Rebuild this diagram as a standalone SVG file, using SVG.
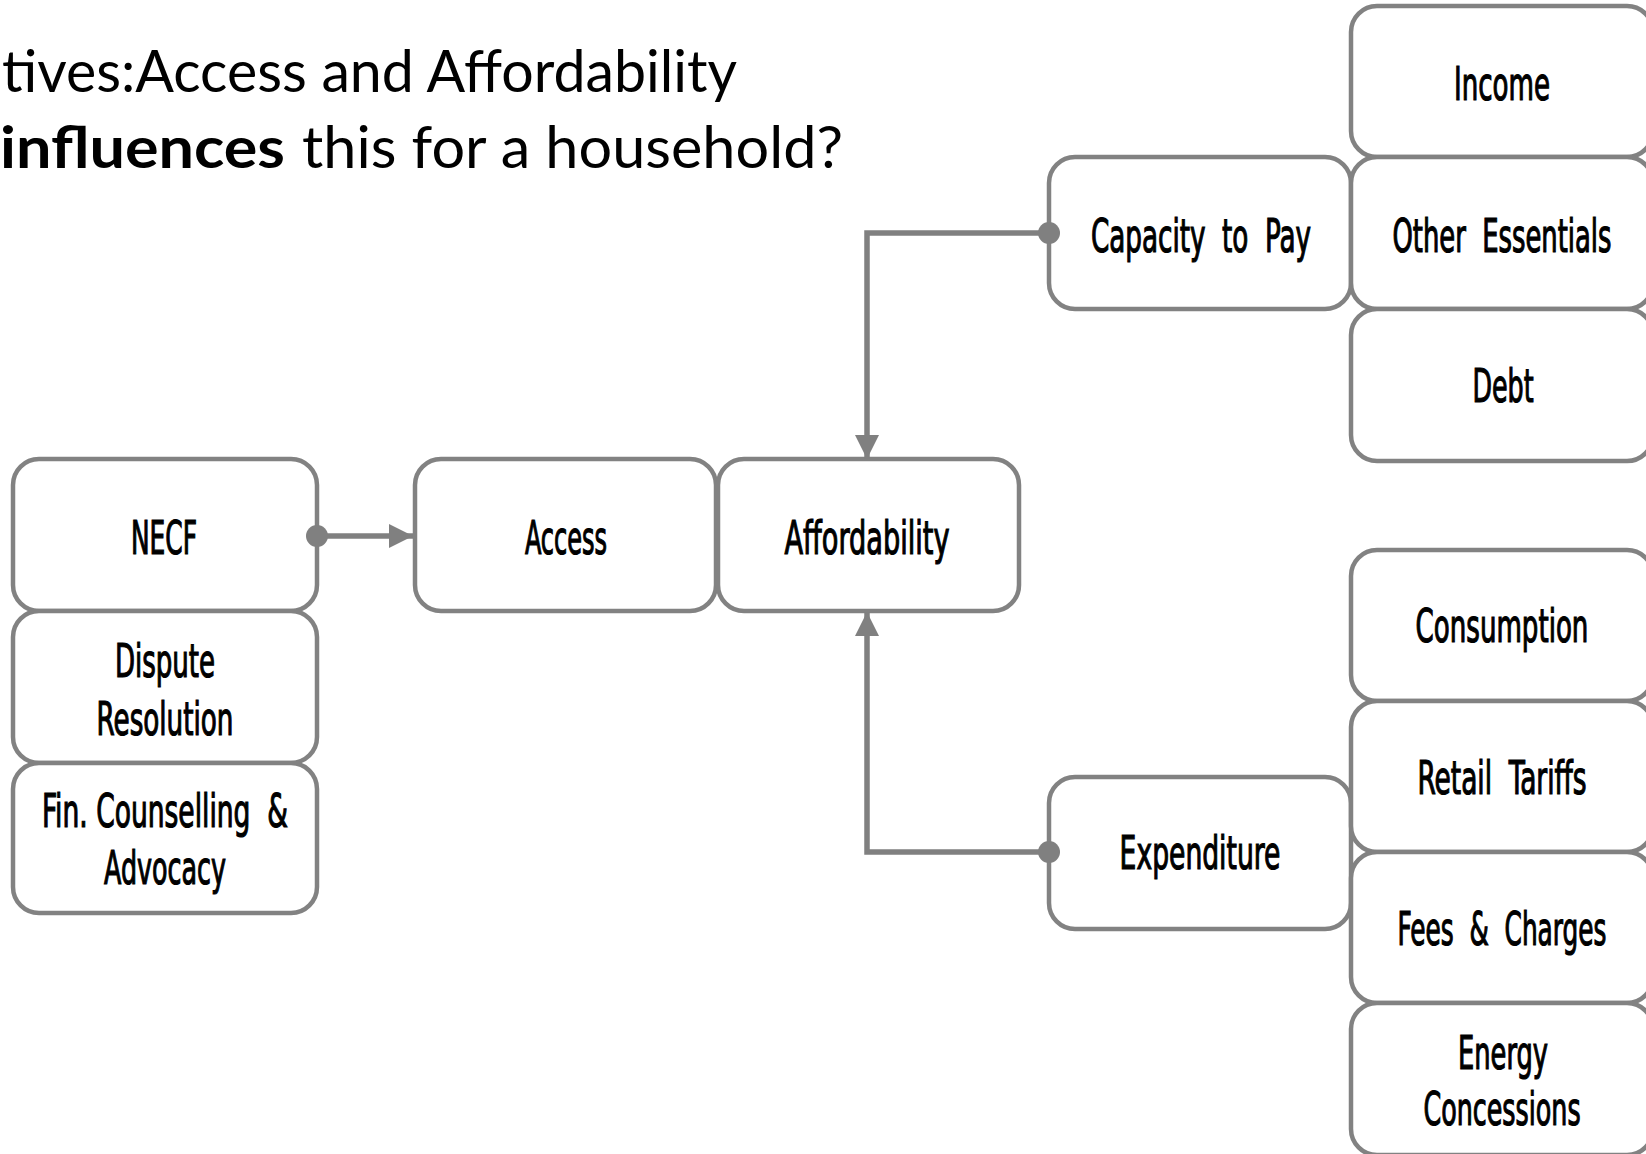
<svg xmlns="http://www.w3.org/2000/svg" width="1646" height="1154" viewBox="0 0 1646 1154">
<style>
.box{fill:#fff;stroke:#828282;stroke-width:4.5}
.lbl{font-family:"Liberation Sans Narrow","DejaVu Sans Condensed","Liberation Sans",sans-serif;font-size:46px;fill:#000;stroke:#000;stroke-width:1.2;text-anchor:middle;white-space:pre}
.title{font-family:Lato,"Open Sans","Liberation Sans",sans-serif;font-size:58px;fill:#000}
.conn{fill:none;stroke:#808080;stroke-width:5.5}
.dot{fill:#808080}
</style>
<defs>
<marker id="arr" markerUnits="userSpaceOnUse" markerWidth="24" markerHeight="24" viewBox="0 0 24 24" refX="24" refY="12" orient="auto">
<path d="M0,0 L24,12 L0,24 Z" fill="#808080"/>
</marker>
</defs>
<rect width="1646" height="1154" fill="#fff"/>
<g id="title">
<text class="title" x="2" y="92" textLength="735" lengthAdjust="spacingAndGlyphs">tives:Access and Affordability</text>
<text class="title" y="168"><tspan x="0" font-weight="bold" textLength="285" lengthAdjust="spacingAndGlyphs">influences</tspan><tspan x="302" textLength="541" lengthAdjust="spacingAndGlyphs">this for a household?</tspan></text>
</g>
<g id="n-necf"><rect class="box" x="13" y="459" width="304" height="152" rx="26"/><text class="lbl" transform="translate(164,554) scale(0.6,1)" textLength="110" lengthAdjust="spacingAndGlyphs">NECF</text></g>
<g id="n-dispute"><rect class="box" x="13" y="611" width="304" height="152" rx="26"/><text class="lbl" transform="translate(165,677) scale(0.6,1)" textLength="167" lengthAdjust="spacingAndGlyphs">Dispute</text><text class="lbl" transform="translate(165,735) scale(0.6,1)" textLength="228" lengthAdjust="spacingAndGlyphs">Resolution</text></g>
<g id="n-fin"><rect class="box" x="13" y="763" width="304" height="150" rx="26"/><text class="lbl" transform="translate(165,827) scale(0.6,1)" textLength="410" lengthAdjust="spacingAndGlyphs">Fin. Counselling  &amp;</text><text class="lbl" transform="translate(165,884) scale(0.6,1)" textLength="203" lengthAdjust="spacingAndGlyphs">Advocacy</text></g>
<g id="n-access"><rect class="box" x="415" y="459" width="301" height="152" rx="26"/><text class="lbl" transform="translate(566,554) scale(0.6,1)" textLength="137" lengthAdjust="spacingAndGlyphs">Access</text></g>
<g id="n-afford"><rect class="box" x="718" y="459" width="301" height="152" rx="26"/><text class="lbl" transform="translate(867,554) scale(0.6,1)" textLength="275" lengthAdjust="spacingAndGlyphs">Affordability</text></g>
<g id="n-capacity"><rect class="box" x="1049" y="157" width="302" height="152" rx="26"/><text class="lbl" transform="translate(1201,252) scale(0.6,1)" textLength="367" lengthAdjust="spacingAndGlyphs">Capacity  to  Pay</text></g>
<g id="n-expend"><rect class="box" x="1049" y="777" width="302" height="152" rx="26"/><text class="lbl" transform="translate(1200,869) scale(0.6,1)" textLength="268" lengthAdjust="spacingAndGlyphs">Expenditure</text></g>
<g id="n-income"><rect class="box" x="1351" y="6" width="302" height="151" rx="26"/><text class="lbl" transform="translate(1502,100) scale(0.6,1)" textLength="160" lengthAdjust="spacingAndGlyphs">Income</text></g>
<g id="n-other"><rect class="box" x="1351" y="157" width="302" height="152" rx="26"/><text class="lbl" transform="translate(1502,252) scale(0.6,1)" textLength="365" lengthAdjust="spacingAndGlyphs">Other  Essentials</text></g>
<g id="n-debt"><rect class="box" x="1351" y="309" width="302" height="152" rx="26"/><text class="lbl" transform="translate(1503,402) scale(0.6,1)" textLength="102" lengthAdjust="spacingAndGlyphs">Debt</text></g>
<g id="n-consumption"><rect class="box" x="1351" y="550" width="302" height="151" rx="26"/><text class="lbl" transform="translate(1502,642) scale(0.6,1)" textLength="288" lengthAdjust="spacingAndGlyphs">Consumption</text></g>
<g id="n-retail"><rect class="box" x="1351" y="701" width="302" height="151" rx="26"/><text class="lbl" transform="translate(1502,794) scale(0.6,1)" textLength="282" lengthAdjust="spacingAndGlyphs">Retail  Tariffs</text></g>
<g id="n-fees"><rect class="box" x="1351" y="852" width="302" height="151" rx="26"/><text class="lbl" transform="translate(1502,945) scale(0.6,1)" textLength="348" lengthAdjust="spacingAndGlyphs">Fees  &amp;  Charges</text></g>
<g id="n-energy"><rect class="box" x="1351" y="1003" width="302" height="152" rx="26"/><text class="lbl" transform="translate(1503,1069) scale(0.6,1)" textLength="150" lengthAdjust="spacingAndGlyphs">Energy</text><text class="lbl" transform="translate(1502,1125) scale(0.6,1)" textLength="262" lengthAdjust="spacingAndGlyphs">Concessions</text></g>
<g id="connectors">
<path class="conn" d="M317,536 H413" marker-end="url(#arr)"/>
<circle class="dot" cx="317" cy="536" r="11"/>
<path class="conn" d="M1049,233 H867 V459" marker-end="url(#arr)"/>
<circle class="dot" cx="1049" cy="233" r="11"/>
<path class="conn" d="M1049,852 H867 V612" marker-end="url(#arr)"/>
<circle class="dot" cx="1049" cy="852" r="11"/>
</g>
</svg>
